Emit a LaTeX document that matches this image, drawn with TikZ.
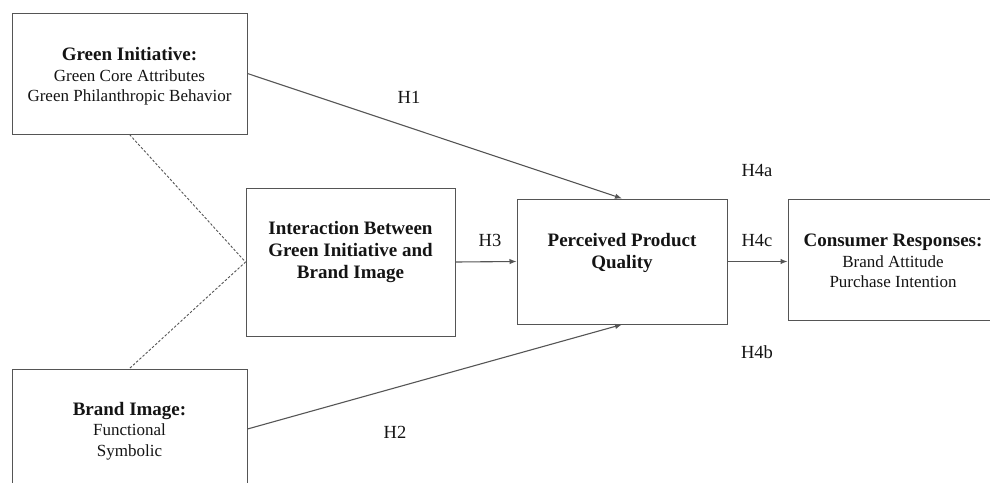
\documentclass[tikz,border=0pt]{standalone}
\usepackage{fontspec}
\setmainfont{Liberation Serif}
\usetikzlibrary{arrows.meta}

\definecolor{edgegray}{RGB}{85,85,85}
\definecolor{inkblack}{RGB}{20,20,20}
\newcommand{\hd}[1]{{\fontsize{19}{22}\selectfont\bfseries #1}}
\tikzstyle{box}=[draw=edgegray,line width=1pt,rectangle,inner sep=0pt]
\tikzstyle{txt}=[align=center,text=inkblack,inner sep=0pt,
                 font=\fontsize{17}{20.5}\selectfont]
\tikzstyle{hyp}=[text=inkblack,inner sep=0pt,font=\fontsize{18.5}{20}\selectfont]
\tikzstyle{link}=[draw=edgegray,line width=1.1pt,-{Latex[length=7pt,width=5.5pt]}]
\tikzstyle{pair}=[draw=edgegray,line width=0.9pt,dash pattern=on 2.5pt off 1.8pt]

\begin{document}
\begin{tikzpicture}[x=1pt,y=-1pt]
  \useasboundingbox (0,0) rectangle (990,482);

  \node[box,minimum width=235pt,minimum height=121pt] (gi) at (129.5,73.5) {};
  \node[box,minimum width=235pt,minimum height=120pt] (bi) at (129.5,429) {};
  \node[box,minimum width=209pt,minimum height=148pt] (ib) at (350.5,262) {};
  \node[box,minimum width=210pt,minimum height=125pt] (pq) at (622,261.5) {};
  \node[box,minimum width=230pt,minimum height=121pt] (cr) at (903,259.5) {};

  \node[txt] (gi-text) at (129.5,76.5) {\hd{Green Initiative:}\\Green Core Attributes\\Green Philanthropic Behavior};
  \node[txt] (bi-text) at (129.5,431) {\hd{Brand Image:}\\Functional\\Symbolic};
  \node[txt] (ib-text) at (350.5,252.5) {\hd{Interaction Between}\\[1.5pt]\hd{Green Initiative and}\\[1.5pt]\hd{Brand Image}};
  \node[txt] (pq-text) at (622,253) {\hd{Perceived Product}\\[1.5pt]\hd{Quality}};
  \node[txt] (cr-text) at (893,261) {\hd{Consumer Responses:}\\Brand Attitude\\Purchase Intention};

  \node[hyp] (h1) at (409,97) {H1};
  \node[hyp] (h2) at (395,432) {H2};
  \node[hyp] (h3) at (490,240) {H3};
  \node[hyp] (h4a) at (757,170) {H4a};
  \node[hyp] (h4c) at (757,240) {H4c};
  \node[hyp] (h4b) at (757,352) {H4b};

  \path[link] (gi.east) -- (pq.north);
  \path[link] (bi.east) -- (pq.south);
  \path[link] (ib.east) -- (pq.west);
  \path[link] (pq.east) -- (pq.east -| cr.west);

  \path[pair] (gi.south) -- (ib.west) -- (bi.north);

\end{tikzpicture}
\end{document}
